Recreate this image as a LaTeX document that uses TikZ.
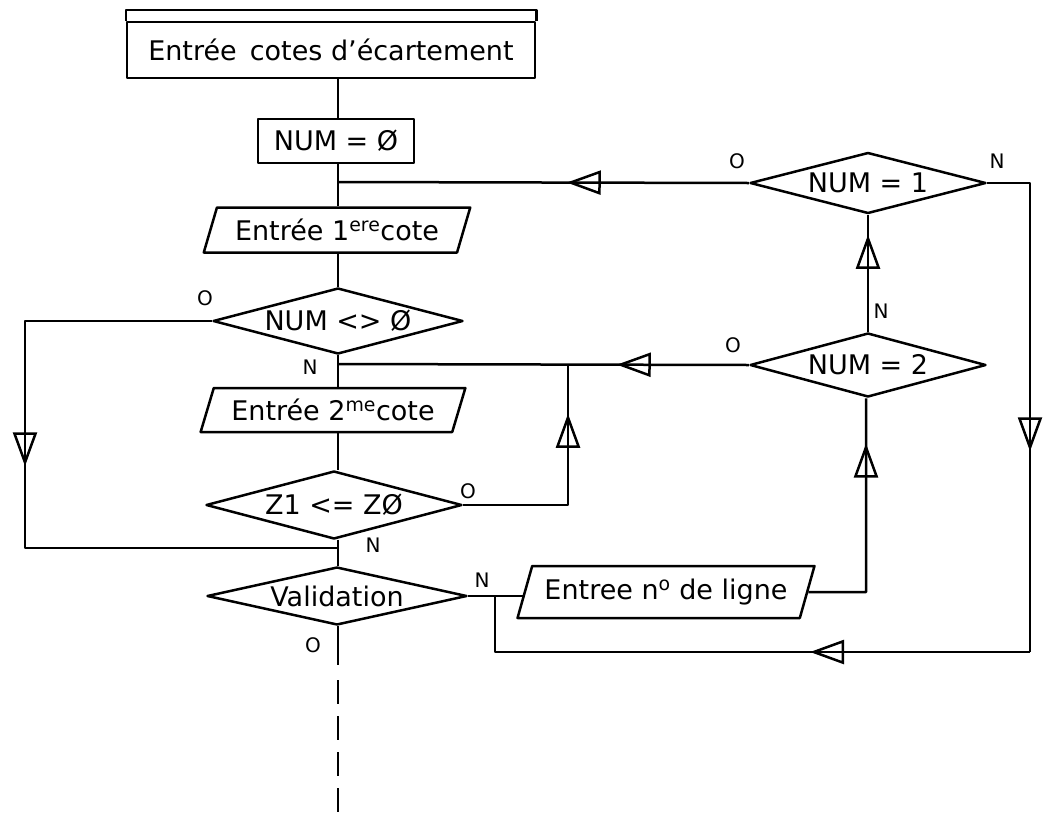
\documentclass[tikz,border=0pt]{standalone}
\usepackage{fontspec}
\setmainfont{DejaVu Sans}
\usetikzlibrary{shapes.geometric,arrows.meta,decorations.markings}
\begin{document}
\begin{tikzpicture}[x=1pt,y=-1pt,
  line width=2.5pt, line join=round,
  every node/.style={inner sep=0pt},
  txt/.style={font=\fontsize{27}{30}\selectfont},
  lbl/.style={font=\fontsize{20}{22}\selectfont},
  procbox/.style={draw, rectangle, txt},
  iobox/.style={draw, trapezium, trapezium left angle=63, trapezium right angle=117, trapezium stretches=true, txt},
  decbox/.style={draw, diamond, aspect=3.8, txt},
  openarrow/.style={postaction={decorate, decoration={markings, mark=at position #1 with {\arrow{Triangle[open, length=34pt, width=24pt, line width=2.5pt]}}}}},
]
\useasboundingbox (0,0) rectangle (1044,817);

% main column
\node[procbox, minimum width=408pt, minimum height=56pt] (top) at (331,50) {Entrée\, cotes d'écartement};
\draw (top.north west) -- ([yshift=11pt]top.north west) -- ([yshift=11pt]top.north east) -- (top.north east);
\node[procbox, minimum width=156pt, minimum height=44pt] (numbox) at (336,141) {NUM = Ø};
\node[iobox, minimum width=267pt, minimum height=45pt] (par1) at (337,230) {Entrée 1\textsuperscript{ere}cote};
\node[decbox, minimum width=250pt, minimum height=66pt] (d1) at (338,321) {NUM <> Ø};
\node[iobox, minimum width=265pt, minimum height=44pt] (par2) at (333,410) {Entrée 2\textsuperscript{me}cote};
\node[decbox, minimum width=256pt, minimum height=68pt] (d2) at (334,505) {Z1 <= ZØ};
\node[decbox, minimum width=260pt, minimum height=58pt] (d3) at (337,596) {Validation};

% right column
\node[decbox, minimum width=236pt, minimum height=61pt] (n1) at (868,183) {NUM = 1};
\node[decbox, minimum width=236pt, minimum height=64pt] (n2) at (868,365) {NUM = 2};
\node[iobox, minimum width=297pt, minimum height=52pt] (par3) at (666,592) {Entree n\textsuperscript{o} de ligne};

% junction coordinates
\coordinate (j1) at (338,182);
\coordinate (j2) at (338,364);
\coordinate (j3) at (338,548);
\coordinate (z1r) at (568,505);
\coordinate (z1u) at (568,364);
\coordinate (l1) at (25,321);
\coordinate (l2) at (25,548);
\coordinate (p3r) at (866,592);
\coordinate (r1) at (1030,183);
\coordinate (r2) at (1030,652);
\coordinate (b1) at (495,652);
\coordinate (b2) at (495,596);
\coordinate (o1) at (338,665);
\coordinate (ds) at (338,680);
\coordinate (de) at (338,815);

% main vertical connectors
\draw (top.south -| j1) -- (numbox.north -| j1);
\draw (numbox.south -| j1) -- (par1.north -| j1);
\draw (par1.south -| j1) -- (d1.north -| j1);
\draw (d1.south -| j1) -- (par2.north -| j1);
\draw (par2.south -| j1) -- (d2.north -| j1);
\draw (d2.south -| j1) -- (d3.north -| j1);
\draw (d3.south -| j1) -- (o1);
\draw[dash pattern=on 24pt off 12pt] (ds) -- (de);

% loops
\draw[openarrow=182pt] (n1.west) -- (j1);
\draw[openarrow=132pt] (n2.west) -- (j2);
\draw[openarrow=196pt] (d2.east) -- (z1r) -- (z1u);
\draw[openarrow=97pt] (n2.north) -- (n1.south);
\draw[openarrow=206pt] (par3.east) -- (p3r) -- (n2.south -| p3r);
\draw[openarrow=332pt] (d1.west) -- (l1) -- (l2) -- (j3);
\draw[openarrow=311pt] (n1.east) -- (r1) -- (r2);
\draw[openarrow=220pt] (r2) -- (b1) -- (b2);
\draw (d3.east) -- (d3.east -| par3.west);

% labels
\node[lbl] (lo1) at (737,161) {O};
\node[lbl] (ln1) at (997,161) {N};
\node[lbl] (ln2) at (881,311) {N};
\node[lbl] (lo2) at (733,345) {O};
\node[lbl] (lo3) at (205,298) {O};
\node[lbl] (ln3) at (310,367) {N};
\node[lbl] (lo4) at (468,491) {O};
\node[lbl] (ln4) at (373,545) {N};
\node[lbl] (ln5) at (482,580) {N};
\node[lbl] (lo5) at (313,645) {O};
\end{tikzpicture}
\end{document}
